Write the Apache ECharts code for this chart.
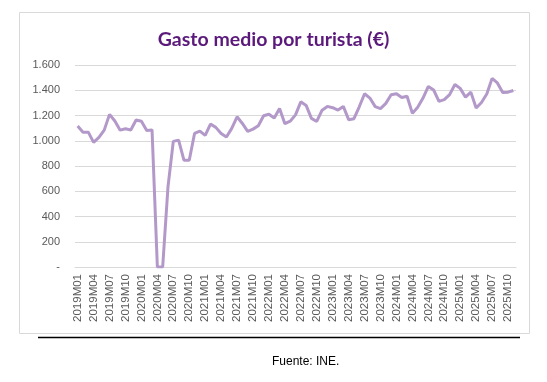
<!DOCTYPE html>
<html>
<head>
<meta charset="utf-8">
<script src="https://cdn.jsdelivr.net/npm/echarts@6/dist/echarts.min.js"></script>
<style>
html,body{margin:0;padding:0;background:#fff;}
#c{width:547px;height:382px;}
</style>
</head>
<body>
<div id="c"></div>
<script>
var years = ['2019','2020','2021','2022','2023','2024','2025'];
var categories = [];
years.forEach(function(y){ for (var m = 1; m <= 12; m++) { categories.push(y + 'M' + (m < 10 ? '0' + m : m)); } });
categories = categories.slice(0, 83); // 2019M01 .. 2025M11

var gastoMedio = [
  1116, 1068, 1068, 987, 1026, 1084, 1209, 1156, 1084, 1095, 1085, 1164,
  1155, 1082, 1086, 0, 0, 635, 995, 1005, 846, 846, 1058, 1076,
  1042, 1132, 1106, 1058, 1030, 1098, 1190, 1137, 1074, 1092, 1119, 1198,
  1210, 1180, 1256, 1135, 1155, 1205, 1308, 1280, 1177, 1153, 1242, 1272,
  1262, 1243, 1272, 1167, 1175, 1269, 1372, 1338, 1270, 1255, 1296, 1364,
  1372, 1342, 1352, 1217, 1266, 1338, 1430, 1402, 1312, 1326, 1365, 1446,
  1415, 1345, 1385, 1259, 1303, 1370, 1494, 1458, 1383, 1385, 1398
];

var yTicks = [0, 200, 400, 600, 800, 1000, 1200, 1400, 1600];

function fmt(v) {
  if (v === 0) return '-';
  var s = String(v);
  return s.length > 3 ? s.slice(0, s.length - 3) + '.' + s.slice(-3) : s;
}

var chart = echarts.init(document.getElementById('c'), null, {renderer: 'canvas'});
chart.setOption({
  animation: false,
  backgroundColor: '#ffffff',
  title: {
    text: 'Gasto medio por turista (€)',
    left: 'center',
    top: 25,
    textStyle: {fontFamily: 'Lato', fontWeight: 'bold', fontSize: 19.5, color: '#5b1a7b'}
  },
  graphic: [
    {type: 'rect', shape: {x: 19.5, y: 12.5, width: 510, height: 321}, style: {fill: 'none', stroke: '#d9d9d9', lineWidth: 1}, z: -1},
    {type: 'line', shape: {x1: 38, y1: 337.5, x2: 520, y2: 337.5}, style: {stroke: '#000000', lineWidth: 1.3}},
    {type: 'text', left: 272, top: 356, style: {text: 'Fuente: INE.', fontFamily: 'Liberation Sans', fontSize: 12, fill: '#000000'}}
  ],
  grid: {left: 75, right: 31, top: 65, bottom: 115, containLabel: false},
  xAxis: {
    type: 'category',
    data: categories,
    boundaryGap: true,
    axisLine: {show: true, lineStyle: {color: '#d9d9d9', width: 1}},
    axisTick: {show: false},
    axisLabel: {
      interval: 2,
      rotate: 90,
      margin: 7,
      color: '#595959',
      fontFamily: 'Liberation Sans',
      fontSize: 11.5
    }
  },
  yAxis: {
    type: 'value',
    min: yTicks[0],
    max: yTicks[yTicks.length - 1],
    interval: 200,
    axisLine: {show: false},
    axisTick: {show: false},
    splitLine: {lineStyle: {color: '#d9d9d9', width: 1}},
    axisLabel: {
      margin: 15,
      color: '#595959',
      fontFamily: 'Liberation Sans',
      fontSize: 11,
      formatter: fmt
    }
  },
  series: [{
    type: 'line',
    data: gastoMedio,
    symbol: 'none',
    smooth: false,
    lineStyle: {color: '#b399c9', width: 3},
    itemStyle: {color: '#b399c9'}
  }]
});
</script>
</body>
</html>
